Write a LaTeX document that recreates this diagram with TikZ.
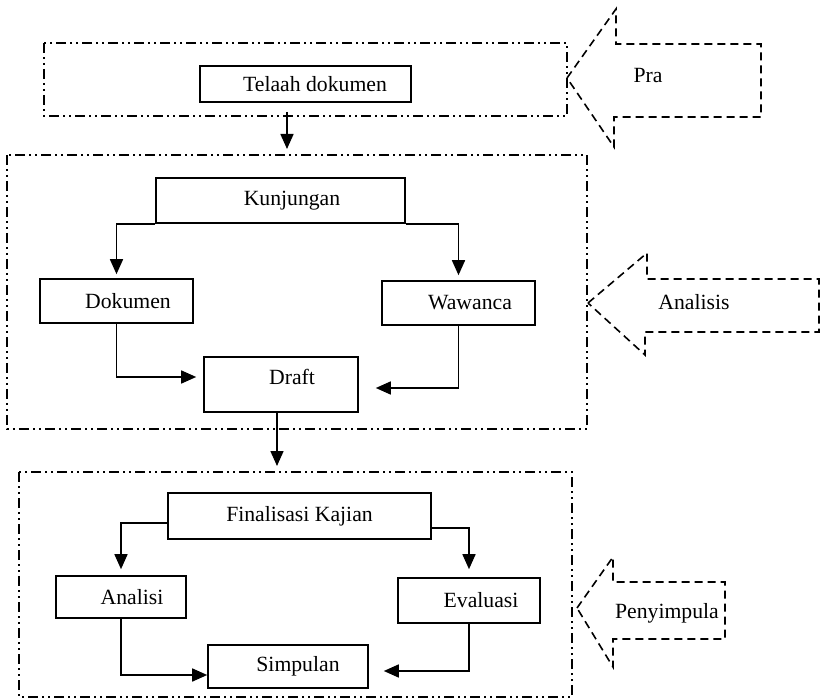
\documentclass[tikz,border=0pt]{standalone}
\usepackage{fontspec}
\setmainfont{Liberation Serif}
\usetikzlibrary{arrows.meta}
\begin{document}
\begin{tikzpicture}[x=1pt, y=-1pt, >={Triangle[length=15pt,width=13pt]},
    font=\fontsize{21.7}{26}\selectfont,
    box/.style={draw, line width=1.6pt, inner sep=0pt},
    arr/.style={->, line width=1.6pt},
    frame/.style={line width=1.3pt, dash pattern=on 10pt off 4pt on 2pt off 4pt on 2pt off 4pt},
    blockarrow/.style={line width=1.6pt, dash pattern=on 8pt off 5pt}]
    \useasboundingbox (0,0) rectangle (822,700);

    % tahap pra
    \draw[frame] (44,43) rectangle (567,116);
    \node[box, minimum width=211pt, minimum height=36pt] (telaah) at (305.5,84) {\hspace*{19pt}Telaah dokumen};
    \coordinate (t1) at (287,112);
    \coordinate (t2) at (287,149);
    \draw[arr] (t1) -- (t2);

    % tahap analisis
    \draw[frame] (7,155) rectangle (587,429);
    \node[box, minimum width=249pt, minimum height=45pt] (kunjungan) at (280.5,200.5) {\hspace*{23pt}Kunjungan};
    \node[box, minimum width=153pt, minimum height=44pt] (dokumen) at (116.5,301) {\hspace*{23pt}Dokumen};
    \node[box, minimum width=153pt, minimum height=44pt] (wawanca) at (458.5,303) {\hspace*{23pt}Wawanca};
    \node[box, minimum width=154pt, minimum height=55pt] (draft) at (281,384.5) {};
    \node (draftlabel) at (292,377) {Draft};

    \draw[arr, shorten >=4pt] (kunjungan.south west) -| (dokumen.north);
    \draw[arr, shorten >=5pt] (kunjungan.south east) -| (wawanca.north);
    \draw[arr, shorten >=7pt] (dokumen.south) |- ([yshift=7.5pt]draft.west);
    \draw[arr, shorten >=17pt] (wawanca.south) |- ([yshift=-3.5pt]draft.east);

    \coordinate (d1) at (277,466);
    \draw[arr] ([xshift=-4pt]draft.south) -- (d1);

    % tahap penyimpulan
    \draw[frame] (19,472) rectangle (572,697);
    \node[box, minimum width=263pt, minimum height=46pt] (finalisasi) at (299.5,516) {Finalisasi Kajian};
    \node[box, minimum width=130pt, minimum height=42pt] (analisi) at (121,597) {\hspace*{22pt}Analisi};
    \node[box, minimum width=142pt, minimum height=45pt] (evaluasi) at (469,600.5) {\hspace*{24pt}Evaluasi};
    \node[box, minimum width=160pt, minimum height=43pt] (simpulan) at (288,666.5) {\hspace*{20pt}Simpulan};

    \draw[arr, shorten >=6pt] ([yshift=-7pt]finalisasi.west) -| (analisi.north);
    \draw[arr, shorten >=8pt] ([yshift=-12pt]finalisasi.east) -| (evaluasi.north);
    \draw[arr] (analisi.south) |- ([yshift=-8.5pt]simpulan.west);
    \draw[arr, shorten >=15pt] (evaluasi.south) |- ([yshift=-4.5pt]simpulan.east);

    % panah tahapan
    \draw[blockarrow] (567,78) -- (616,9) -- (616,44) -- (761,44) -- (761,117) -- (614,117) -- (614,147) -- cycle;
    \node (pra) at (648,76) {Pra};
    \draw[blockarrow] (588,303) -- (647,253) -- (647,279) -- (819,279) -- (819,332) -- (645,332) -- (645,355) -- cycle;
    \node (analisis) at (694,302) {Analisis};
    \draw[blockarrow] (577,608) -- (613,557) -- (613,582) -- (725,582) -- (725,639) -- (613,639) -- (613,667) -- cycle;
    \node (penyimpulan) at (667,613) {Penyimpula};
  \end{tikzpicture}
\end{document}
